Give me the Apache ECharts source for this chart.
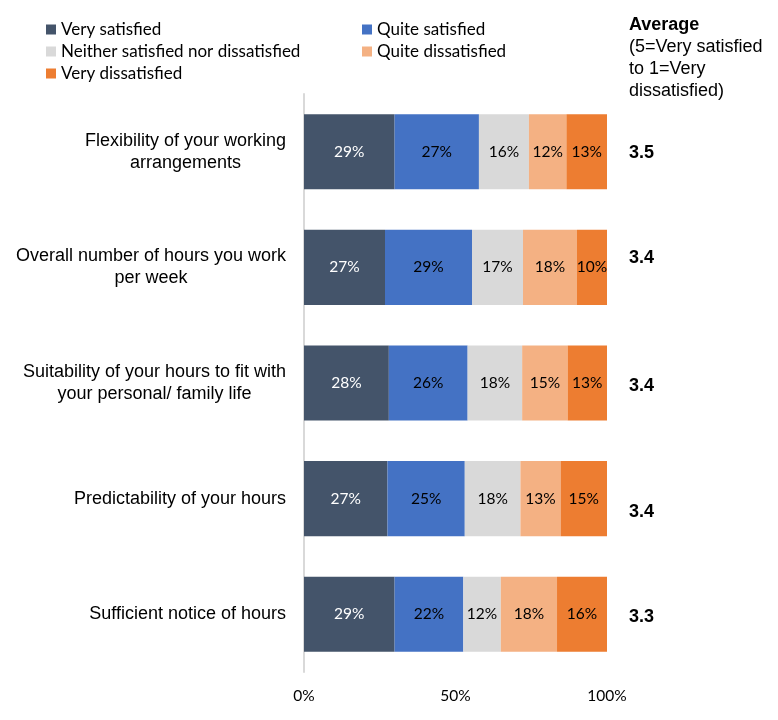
<!DOCTYPE html>
<html>
<head>
<meta charset="utf-8">
<script src="https://cdn.jsdelivr.net/npm/echarts@6/dist/echarts.min.js"></script>
<style>
html,body{margin:0;padding:0;background:#fff;}
#chart{width:778px;height:720px;}
</style>
</head>
<body>
<div id="chart"></div>
<script>
var categories=['Flexibility of your working\narrangements','Overall number of hours you work\nper week','Suitability of your hours to fit with\nyour personal/ family life','Predictability of your hours','Sufficient notice of hours'];
var seriesNames=['Very satisfied','Quite satisfied','Neither satisfied nor dissatisfied','Quite dissatisfied','Very dissatisfied'];
var verySatisfied=[29,27,28,27,29];
var quiteSatisfied=[27,29,26,25,22];
var neither=[16,17,18,18,12];
var quiteDissatisfied=[12,18,15,13,18];
var veryDissatisfied=[13,10,13,15,16];
var averages=['3.5','3.4','3.4','3.4','3.3'];
var xTicks=['0%','50%','100%'];

var colors=['#44546A','#4472C4','#D9D9D9','#F4B183','#ED7D31'];
var labelColors=['#ffffff','#000000','#000000','#000000','#000000'];
var avgShift=[1,-9,3,13,3];//平均分文字的上下偏移

var chart=echarts.init(document.getElementById('chart'));
var allValues=[verySatisfied,quiteSatisfied,neither,quiteDissatisfied,veryDissatisfied];
//每行合计,按100%堆叠
var rowTotals=categories.map(function(c,i){
	var s=0;
	allValues.forEach(function(v){s+=v[i];});
	return s;
});

var series=allValues.map(function(vals,k){
	return {
		name:seriesNames[k],
		type:'bar',
		stack:'total',
		barCategoryGap:'35%',
		itemStyle:{color:colors[k]},
		label:{
			show:true,
			position:'inside',
			color:labelColors[k],
			fontFamily:'Lato',
			fontSize:15.5,
			formatter:function(p){return vals[p.dataIndex]+'%';}
		},
		data:vals.map(function(v,i){return v/rowTotals[i]*100;})
	};
});

var avgRich={};
avgShift.forEach(function(s,i){
	avgRich['a'+i]={
		fontFamily:'Liberation Sans',fontSize:18,fontWeight:'bold',color:'#000',
		padding:s>0?[2*s,0,0,0]:[0,0,-2*s,0]
	};
});

var legendText={fontFamily:'Lato',fontSize:17,color:'#000'};
var option={
	animation:false,
	color:colors,
	legend:[{
		left:41,top:16,orient:'vertical',itemGap:5,
		itemWidth:10,itemHeight:10,icon:'rect',
		textStyle:legendText,
		data:[seriesNames[0],seriesNames[2],seriesNames[4]]
	},{
		left:357,top:16,orient:'vertical',itemGap:5,
		itemWidth:10,itemHeight:10,icon:'rect',
		textStyle:legendText,
		data:[seriesNames[1],seriesNames[3]]
	}],
	graphic:[{
		type:'text',left:629,top:16,
		style:{
			text:'{b|Average}\n{n|(5=Very satisfied}\n{n|to 1=Very}\n{n|dissatisfied)}',
			rich:{
				b:{fontFamily:'Liberation Sans',fontSize:18,fontWeight:'bold',lineHeight:22,fill:'#000'},
				n:{fontFamily:'Liberation Sans',fontSize:18,lineHeight:22,fill:'#000'}
			}
		}
	}],
	grid:{left:304,right:171,top:94,bottom:48},
	xAxis:{
		type:'value',min:0,max:100,interval:50,
		axisLine:{show:false},axisTick:{show:false},splitLine:{show:false},
		axisLabel:{
			fontFamily:'Lato',fontSize:15.5,color:'#000',margin:16,
			formatter:function(v){return xTicks[v/50];}
		}
	},
	yAxis:[{
		type:'category',inverse:true,data:categories,
		axisLine:{show:true,lineStyle:{color:'#D9D9D9',width:2}},
		axisTick:{show:false},
		axisLabel:{
			margin:18,align:'right',
			formatter:function(v){
				return v.split('\n').map(function(s){return '{c|'+s+'}';}).join('\n');
			},
			rich:{c:{align:'center',fontFamily:'Liberation Sans',fontSize:18,lineHeight:22,color:'#000'}}
		}
	},{
		type:'category',inverse:true,position:'right',data:averages,
		axisLine:{show:false},axisTick:{show:false},
		axisLabel:{
			margin:22,
			formatter:function(v,i){return '{a'+i+'|'+v+'}';},
			rich:avgRich
		}
	}],
	series:series
};
chart.setOption(option);
</script>
</body>
</html>
